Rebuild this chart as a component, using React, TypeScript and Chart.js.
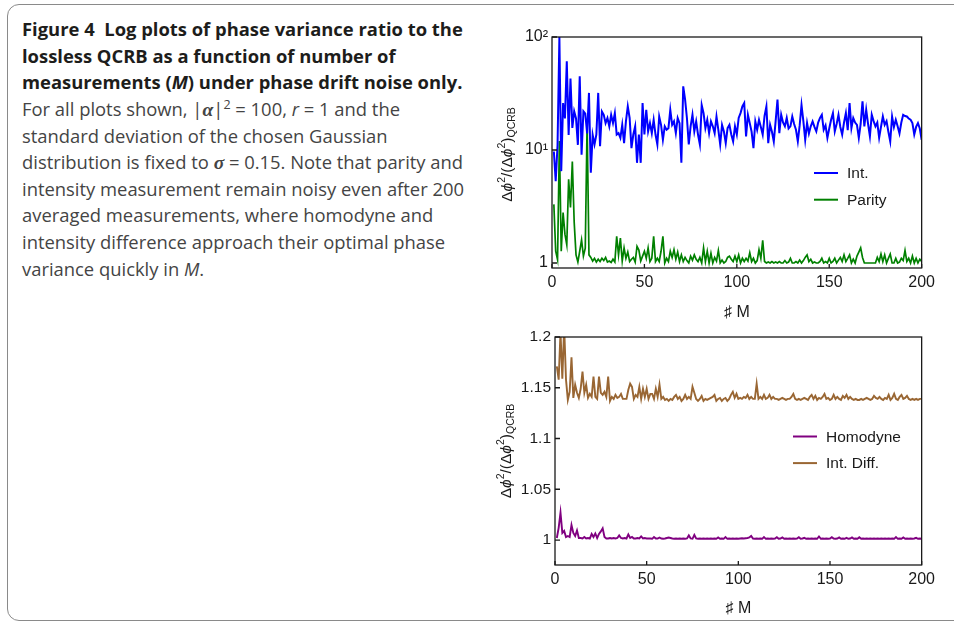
import React, { useEffect, useRef } from "react";
import { Chart, registerables } from "chart.js";

Chart.register(...registerables);

// ---------- data ----------
const measurementNumbers: number[] = Array.from({ length: 200 }, (_, i) => i + 1);

const xTickValues = [0, 50, 100, 150, 200];

const topYTickValues = [1, 10, 100];
const topYTickLabels = ["1", "10\u00B9", "10\u00B2"];

const bottomYTickValues = [1, 1.05, 1.1, 1.15, 1.2];
const bottomYTickLabels = ["1", "1.05", "1.1", "1.15", "1.2"];

const intValues = [
  9.7, 5.3, 11, 100, 6.5, 26, 19, 61, 13.6, 43,
  15.7, 22, 19, 11.1, 45, 9.1, 22, 21, 14, 32,
  6.3, 13.6, 11.2, 13.7, 32, 10.8, 21.9, 20.5, 17.3, 19.2,
  16.2, 20.5, 17.3, 21.2, 13.7, 14.1, 12.8, 16.7, 11.5, 17.9,
  24.3, 19.2, 10.4, 13.7, 16.2, 7.7, 13.7, 7.7, 26, 13.7,
  22.7, 14.6, 17.3, 14.1, 18.5, 13.7, 11.2, 19.8, 16.7, 12.3,
  16.2, 15.1, 15.6, 22.7, 16.7, 17.9, 14.1, 19.2, 17.3, 7.7,
  36.6, 28, 19.2, 11.2, 16.2, 20.5, 14.6, 17.9, 13.7, 11.2,
  25, 21.2, 15.6, 18.5, 14.1, 17.9, 16.2, 14.1, 19.8, 15.1,
  11.2, 16.7, 14.6, 11.5, 15.6, 16.7, 13.7, 11.9, 16.2, 13.7,
  19.2, 21.2, 24.3, 26, 13.2, 20.5, 17.3, 14.5, 10.4, 17.9,
  15.1, 18.5, 16, 13.7, 20, 24.3, 11.5, 16.7, 14.5, 11.9,
  18, 28, 14.1, 20.5, 17.5, 16.2, 19.2, 15.5, 16.2, 19.8,
  17, 15.1, 11.9, 16.5, 25, 18, 12.3, 17.3, 14, 16.2,
  17.9, 16, 14.6, 17.5, 19.2, 20.5, 15.1, 16.5, 12.8, 15.5,
  18.5, 21.2, 14.6, 17, 20.5, 16, 13.7, 17.5, 21.2, 15,
  26, 15.6, 19.2, 17.5, 16.7, 12.8, 17, 27, 16.2, 22.7,
  17, 13.2, 20.5, 18, 16.2, 17.5, 12.8, 16, 19.8, 16.7,
  18, 14.5, 11.9, 19.8, 16, 18.5, 16.2, 14, 17.5, 20.5,
  20, 19.8, 19, 18.5, 17.3, 13.7, 16, 17.3, 15.5, 12.3,
];

const parityValues = [
  3.3, 1.27, 1.07, 12, 1.27, 2.8, 1.8, 1.45, 5.5, 3.1,
  7.9, 2.3, 1.18, 1.02, 1.27, 1.6, 1.15, 1.35, 17.3, 1.18,
  1.12, 1.04, 1.1, 1.02, 1.08, 1.03, 1.1, 1.05, 1.12, 1.02,
  1.04, 1.01, 1.08, 1.02, 1.72, 1.18, 1.66, 1.04, 1.36, 1.1,
  1.25, 1.03, 1.08, 1.12, 1.02, 1.4, 1.3, 1.04, 1.15, 1.27,
  1.1, 1.36, 1.03, 1.1, 1.72, 1.03, 1.1, 1.03, 1.27, 1.72,
  1.0, 1.1, 1.03, 1.27, 1.12, 1.31, 1.08, 1.25, 1.03, 1.18,
  1.03, 1.12, 1.05, 1.0, 1.15, 1.06, 1.18, 1.08, 1.03, 1.12,
  1.0, 1.36, 1.03, 1.27, 1.0, 1.22, 1.0, 1.12, 1.04, 1.29,
  1.0, 1.06, 1.0, 1.03, 1.12, 1.15, 1.08, 1.03, 1.15, 1.03,
  1.18, 1.0, 1.1, 1.03, 1.1, 1.04, 1.23, 1.03, 1.1, 1.0,
  1.05, 1.31, 1.1, 1.59, 1.03, 1.0, 1.02, 1.0, 1.03, 1.0,
  1.02, 1.0, 1.03, 1.0, 1.0, 1.05, 1.0, 1.02, 1.1, 1.0,
  1.0, 1.03, 1.0, 1.06, 1.0, 1.05, 1.12, 1.18, 1.03, 1.08,
  1.0, 1.02, 1.0, 1.0, 1.03, 1.1, 1.0, 1.03, 1.0, 1.1,
  1.0, 1.03, 1.1, 1.0, 1.06, 1.12, 1.03, 1.18, 1.03, 1.1,
  1.18, 1.0, 1.08, 1.0, 1.15, 1.25, 1.36, 1.12, 1.0, 1.0,
  1.0, 1.0, 1.0, 1.0, 1.0, 1.12, 1.03, 1.2, 1.03, 1.18,
  1.0, 1.1, 1.2, 1.0, 1.0, 1.1, 1.0, 1.02, 1.1, 1.05,
  1.29, 1.03, 1.1, 1.0, 1.15, 1.0, 1.1, 1.0, 1.08, 1.03,
];

const homodyneValues = [
  1.002, 1.012, 1.027, 1.007, 1.009, 1.003, 1.004, 1.003, 1.0148, 1.007,
  1.004, 1.0095, 1.002, 1.002, 1.0015, 1.003, 1.0015, 1.002, 1.0015, 1.006,
  1.003, 1.0065, 1.002, 1.006, 1.0085, 1.0115, 1.003, 1.0015, 1.0015, 1.002,
  1.0015, 1.002, 1.0015, 1.002, 1.0045, 1.002, 1.0015, 1.002, 1.0015, 1.0055,
  1.002, 1.003, 1.0015, 1.0015, 1.002, 1.0015, 1.0035, 1.0015, 1.002, 1.0015,
  1.0015, 1.0015, 1.0012, 1.003, 1.0015, 1.0015, 1.0025, 1.0015, 1.0012, 1.0015,
  1.002, 1.0025, 1.002, 1.0015, 1.0012, 1.0015, 1.0012, 1.0015, 1.0012, 1.0015,
  1.0012, 1.0015, 1.0045, 1.0015, 1.0012, 1.005, 1.0015, 1.0012, 1.0015, 1.0012,
  1.0015, 1.0012, 1.0015, 1.0012, 1.0015, 1.0012, 1.0015, 1.0012, 1.0025, 1.0012,
  1.0015, 1.0012, 1.003, 1.0012, 1.0015, 1.0012, 1.0015, 1.0012, 1.0015, 1.0012,
  1.0015, 1.0018, 1.0015, 1.0018, 1.002, 1.0025, 1.004, 1.0015, 1.0012, 1.0015,
  1.0012, 1.0015, 1.0012, 1.003, 1.0012, 1.0015, 1.0012, 1.0015, 1.0012, 1.0015,
  1.0028, 1.0012, 1.0015, 1.0025, 1.0012, 1.0015, 1.0012, 1.0015, 1.0012, 1.0015,
  1.0012, 1.0015, 1.0028, 1.0012, 1.0015, 1.0022, 1.0012, 1.0015, 1.0012, 1.0015,
  1.0012, 1.0015, 1.0012, 1.0035, 1.0012, 1.0015, 1.0012, 1.0015, 1.0012, 1.0015,
  1.0028, 1.0015, 1.0012, 1.0015, 1.0025, 1.0012, 1.0015, 1.0012, 1.0022, 1.0012,
  1.0015, 1.0025, 1.0012, 1.0015, 1.0012, 1.0028, 1.0012, 1.0015, 1.0012, 1.0015,
  1.0012, 1.0015, 1.0012, 1.0015, 1.0012, 1.0015, 1.0012, 1.0015, 1.0012, 1.0015,
  1.0012, 1.0015, 1.0012, 1.0015, 1.0012, 1.003, 1.0012, 1.0015, 1.0012, 1.0025,
  1.0012, 1.0015, 1.0012, 1.0015, 1.0012, 1.0015, 1.0022, 1.0012, 1.0015, 1.0012,
];

const intDiffValues = [
  1.171, 1.158, 1.205, 1.159, 1.21, 1.158, 1.138, 1.146, 1.18, 1.14,
  1.153, 1.145, 1.14, 1.149, 1.166, 1.145, 1.153, 1.14, 1.144, 1.141,
  1.161, 1.141, 1.139, 1.161, 1.145, 1.143, 1.146, 1.141, 1.161, 1.137,
  1.141, 1.139, 1.143, 1.14, 1.141, 1.144, 1.139, 1.139, 1.139, 1.148,
  1.154, 1.151, 1.139, 1.143, 1.141, 1.151, 1.139, 1.149, 1.141, 1.149,
  1.139, 1.144, 1.144, 1.139, 1.149, 1.141, 1.153, 1.139, 1.141, 1.138,
  1.139, 1.137, 1.139, 1.138, 1.141, 1.143, 1.139, 1.141, 1.137, 1.139,
  1.143, 1.139, 1.141, 1.139, 1.151, 1.145, 1.139, 1.137, 1.139, 1.142,
  1.137, 1.139, 1.138, 1.139, 1.14, 1.141, 1.143, 1.137, 1.139, 1.14,
  1.137, 1.139, 1.14, 1.137, 1.139, 1.143, 1.146, 1.14, 1.144, 1.139,
  1.14, 1.139, 1.141, 1.14, 1.143, 1.139, 1.141, 1.139, 1.139, 1.154,
  1.139, 1.141, 1.139, 1.143, 1.139, 1.14, 1.143, 1.139, 1.141, 1.139,
  1.139, 1.138, 1.139, 1.14, 1.139, 1.138, 1.139, 1.139, 1.141, 1.144,
  1.139, 1.138, 1.139, 1.138, 1.139, 1.14, 1.139, 1.138, 1.141, 1.143,
  1.139, 1.142, 1.138, 1.14, 1.139, 1.141, 1.144, 1.139, 1.14, 1.138,
  1.139, 1.143, 1.139, 1.141, 1.139, 1.138, 1.142, 1.14, 1.143, 1.139,
  1.141, 1.139, 1.138, 1.139, 1.138, 1.138, 1.139, 1.138, 1.139, 1.14,
  1.139, 1.138, 1.139, 1.142, 1.14, 1.139, 1.141, 1.139, 1.138, 1.14,
  1.139, 1.143, 1.138, 1.14, 1.144, 1.139, 1.138, 1.141, 1.143, 1.139,
  1.14, 1.142, 1.139, 1.138, 1.139, 1.138, 1.139, 1.138, 1.139, 1.139,
];

// ---------- styling ----------
const FONT = "'Liberation Sans', Arimo, Arial, 'DejaVu Sans', sans-serif";
const TEXT = "#1a1a1a";

const toPoints = (vals: number[]) => measurementNumbers.map((m, i) => ({ x: m, y: vals[i] }));

const framePlugin = {
  id: "frameTicks",
  afterDatasetsDraw(chart: any) {
    const { ctx, chartArea } = chart;
    const { left, right, top, bottom } = chartArea;
    const xs = chart.scales.x;
    const ys = chart.scales.y;
    ctx.save();
    ctx.strokeStyle = "#1a1a1a";
    ctx.lineWidth = 1.3;
    ctx.strokeRect(left, top, right - left, bottom - top);
    ctx.beginPath();
    xs.ticks.forEach((t: any) => {
      const px = xs.getPixelForValue(t.value);
      ctx.moveTo(px, bottom);
      ctx.lineTo(px, bottom - 4);
    });
    ys.ticks.forEach((t: any) => {
      const py = ys.getPixelForValue(t.value);
      ctx.moveTo(left, py);
      ctx.lineTo(left + 5, py);
    });
    ctx.stroke();
    ctx.restore();
  },
};

const legendPlugin = {
  id: "inlineLegend",
  afterDatasetsDraw(chart: any, _args: any, opts: any) {
    const { ctx, chartArea } = chart;
    ctx.save();
    chart.data.datasets.forEach((ds: any, i: number) => {
      const x = chartArea.left + opts.left;
      const y = chartArea.top + opts.top + i * opts.dy;
      ctx.strokeStyle = ds.borderColor;
      ctx.lineWidth = 2;
      ctx.beginPath();
      ctx.moveTo(x, y);
      ctx.lineTo(x + opts.len, y);
      ctx.stroke();
      ctx.fillStyle = TEXT;
      ctx.font = `${opts.size}px ${FONT}`;
      ctx.textBaseline = "middle";
      ctx.textAlign = "left";
      ctx.fillText(ds.label, x + opts.len + opts.gap, y + 1);
    });
    ctx.restore();
  },
};

const yTitlePlugin = {
  id: "yTitle",
  afterDraw(chart: any, _args: any, opts: any) {
    const { ctx, chartArea } = chart;
    const big = 15.5;
    const small = 10.5;
    const parts = [
      { t: "\u0394", s: big, d: 0, it: false },
      { t: "\u03D5", s: big, d: 0, it: true },
      { t: "2", s: small, d: -6.5, it: false },
      { t: "/(\u0394", s: big, d: 0, it: false },
      { t: "\u03D5", s: big, d: 0, it: true },
      { t: "2", s: small, d: -6.5, it: false },
      { t: ")", s: big, d: 0, it: false },
      { t: "QCRB", s: small, d: 3.5, it: false },
    ];
    ctx.save();
    const fontOf = (p: any) => `${p.it ? "italic " : ""}${p.s}px ${FONT}`;
    let total = 0;
    parts.forEach((p) => {
      ctx.font = fontOf(p);
      total += ctx.measureText(p.t).width;
    });
    const cy = (chartArea.top + chartArea.bottom) / 2 + opts.dyCenter;
    ctx.translate(opts.x, cy);
    ctx.rotate(-Math.PI / 2);
    ctx.fillStyle = TEXT;
    ctx.textBaseline = "alphabetic";
    ctx.textAlign = "left";
    let cx = -total / 2;
    parts.forEach((p) => {
      ctx.font = fontOf(p);
      ctx.fillText(p.t, cx, 5.5 + p.d);
      cx += ctx.measureText(p.t).width;
    });
    ctx.restore();
  },
};

const xScale = (height: number, titleBottom: number) => ({
  type: "linear",
  min: 0,
  max: 200,
  afterBuildTicks: (s: any) => {
    s.ticks = xTickValues.map((v) => ({ value: v }));
  },
  afterFit: (s: any) => {
    s.height = height;
  },
  grid: { display: false, drawTicks: false },
  border: { display: false },
  ticks: {
    color: TEXT,
    font: { family: FONT, size: 16 },
    padding: 5,
    maxRotation: 0,
    callback: (v: any) => String(v),
  },
  title: {
    display: true,
    text: "\u266F M",
    color: TEXT,
    font: { family: FONT, size: 16 },
    padding: { top: 0, bottom: titleBottom },
  },
});

function makeTopConfig(): any {
  return {
    type: "line",
    data: {
      datasets: [
        {
          label: "Int.",
          data: toPoints(intValues),
          borderColor: "#0000ff",
          borderWidth: 2,
          pointRadius: 0,
          tension: 0,
          fill: false,
        },
        {
          label: "Parity",
          data: toPoints(parityValues),
          borderColor: "#008000",
          borderWidth: 1.7,
          pointRadius: 0,
          tension: 0,
          fill: false,
        },
      ],
    },
    options: {
      animation: false,
      responsive: false,
      devicePixelRatio: 1,
      layout: { padding: { top: 17, right: 15, left: 0, bottom: 0 } },
      plugins: {
        legend: { display: false },
        tooltip: { enabled: false },
        inlineLegend: { left: 262, top: 136, dy: 26.7, len: 24, gap: 9, size: 15.5 },
        yTitle: { x: 16, dyCenter: 2 },
      },
      scales: {
        x: xScale(57, 3),
        y: {
          type: "logarithmic",
          min: 0.903,
          max: 100,
          afterBuildTicks: (s: any) => {
            s.ticks = topYTickValues.map((v) => ({ value: v }));
          },
          afterFit: (s: any) => {
            s.width = 62;
          },
          grid: { display: false, drawTicks: false },
          border: { display: false },
          ticks: {
            color: TEXT,
            font: { family: FONT, size: 16 },
            padding: 4,
            callback: (v: any) => {
              const i = topYTickValues.indexOf(Number(v));
              return i >= 0 ? topYTickLabels[i] : "";
            },
          },
        },
      },
    },
    plugins: [framePlugin, legendPlugin, yTitlePlugin],
  };
}

function makeBottomConfig(): any {
  return {
    type: "line",
    data: {
      datasets: [
        {
          label: "Homodyne",
          data: toPoints(homodyneValues),
          borderColor: "#800080",
          borderWidth: 1.9,
          pointRadius: 0,
          tension: 0,
          fill: false,
        },
        {
          label: "Int. Diff.",
          data: toPoints(intDiffValues),
          borderColor: "#996633",
          borderWidth: 1.9,
          pointRadius: 0,
          tension: 0,
          fill: false,
        },
      ],
    },
    options: {
      animation: false,
      responsive: false,
      devicePixelRatio: 1,
      layout: { padding: { top: 17, right: 18, left: 0, bottom: 0 } },
      plugins: {
        legend: { display: false },
        tooltip: { enabled: false },
        inlineLegend: { left: 238, top: 99.5, dy: 26.6, len: 24, gap: 9, size: 15.5 },
        yTitle: { x: 15, dyCenter: 0 },
      },
      scales: {
        x: xScale(60, 7),
        y: {
          type: "linear",
          min: 0.9754,
          max: 1.2,
          afterBuildTicks: (s: any) => {
            s.ticks = bottomYTickValues.map((v) => ({ value: v }));
          },
          afterFit: (s: any) => {
            s.width = 65;
          },
          grid: { display: false, drawTicks: false },
          border: { display: false },
          ticks: {
            color: TEXT,
            font: { family: FONT, size: 15.5 },
            padding: 4,
            callback: (v: any) => {
              const i = bottomYTickValues.findIndex((t) => Math.abs(t - Number(v)) < 1e-9);
              return i >= 0 ? bottomYTickLabels[i] : "";
            },
          },
        },
      },
    },
    plugins: [framePlugin, legendPlugin, yTitlePlugin],
  };
}

function ChartCanvas({ make, left, top }: { make: () => any; left: number; top: number }) {
  const ref = useRef<HTMLCanvasElement>(null);
  useEffect(() => {
    const chart = new Chart(ref.current as HTMLCanvasElement, make());
    return () => chart.destroy();
  }, []);
  return (
    <canvas
      ref={ref}
      width={450}
      height={305}
      style={{ position: "absolute", left, top, width: 450, height: 305 }}
    />
  );
}

const CAPTION_FONT = "'Open Sans', 'Noto Sans', Lato, sans-serif";

export default function App() {
  const lineStyle: React.CSSProperties = { height: 26.6, whiteSpace: "nowrap" };
  const bold: React.CSSProperties = { ...lineStyle, fontWeight: 700, color: "#1d1d1b" };
  const mathB: React.CSSProperties = {
    fontWeight: 700,
    fontStyle: "italic",
    fontFamily: "'Liberation Serif', 'DejaVu Serif', serif",
    fontSize: 19.5,
  };
  const sup: React.CSSProperties = { fontSize: 12.5, position: "relative", top: -7 };
  return (
    <div
      style={{
        position: "absolute",
        left: 0,
        top: 0,
        width: 954,
        height: 625,
        overflow: "hidden",
        background: "#ffffff",
      }}
    >
      <div
        style={{
          position: "absolute",
          left: 7,
          top: 4,
          width: 1000,
          height: 617,
          border: "1px solid #8a8a8a",
          borderRadius: 12,
          boxSizing: "border-box",
        }}
      />
      <div
        style={{
          position: "absolute",
          left: 22,
          top: 16.3,
          fontFamily: CAPTION_FONT,
          fontSize: 18.4,
          lineHeight: "26.6px",
          color: "#444444",
        }}
      >
        <div style={bold}>Figure 4&nbsp;&nbsp;Log plots of phase variance ratio to the</div>
        <div style={bold}>lossless QCRB as a function of number of</div>
        <div style={bold}>
          measurements (<i>M</i>) under phase drift noise only.
        </div>
        <div style={lineStyle}>
          For all plots shown, |<span style={mathB}>{"\u03B1"}</span>|<span style={sup}>2</span> = 100, <i>r</i> = 1 and the
        </div>
        <div style={lineStyle}>standard deviation of the chosen Gaussian</div>
        <div style={lineStyle}>
          distribution is fixed to <span style={mathB}>{"\u03C3"}</span> = 0.15. Note that parity and
        </div>
        <div style={lineStyle}>intensity measurement remain noisy even after 200</div>
        <div style={lineStyle}>averaged measurements, where homodyne and</div>
        <div style={lineStyle}>intensity difference approach their optimal phase</div>
        <div style={lineStyle}>
          variance quickly in <i>M</i>.
        </div>
      </div>
      <ChartCanvas make={makeTopConfig} left={490} top={20} />
      <ChartCanvas make={makeBottomConfig} left={490} top={320} />
    </div>
  );
}
